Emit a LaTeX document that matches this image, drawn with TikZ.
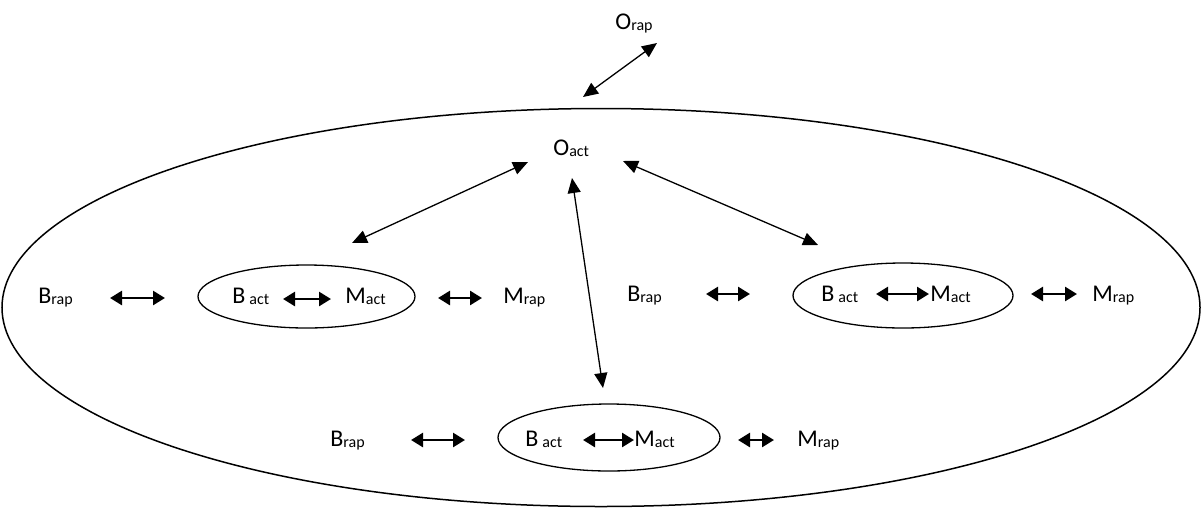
\documentclass[tikz,border=0pt]{standalone}
\usepackage{fontspec}
\setmainfont{Carlito}
\usetikzlibrary{arrows.meta,shapes.geometric}
\newcommand\sbt[1]{\raisebox{-0.6pt}{\fontsize{8}{8}\selectfont #1}}
\tikzset{
  lbl/.style={inner sep=0pt, anchor=base west, font=\fontsize{12}{12}\selectfont},
  harr/.style={line width=1.3pt, {Triangle[length=6pt,width=7pt]}-{Triangle[length=6pt,width=7pt]}},
  darr/.style={line width=0.65pt, {Triangle[length=7.5pt,width=6.5pt]}-{Triangle[length=7.5pt,width=6.5pt]}},
  oval/.style={draw, ellipse, line width=0.65pt, inner sep=0pt},
}
\begin{document}
\begin{tikzpicture}[x=0.5pt,y=-0.5pt]
\useasboundingbox (0,0) rectangle (1203,509);
% big ellipse
\node[oval, line width=0.75pt, minimum width=599pt, minimum height=199pt] (big) at (601,307.5) {};
% top
\node[lbl] (orap) at (615,29) {O\sbt{rap}};
\node[lbl] (oact) at (553,155) {O\sbt{act}};
\coordinate (o1) at (583,97); \coordinate (o2) at (657,43);
\draw[darr] (o1) -- (o2);
\coordinate (d1a) at (528,162); \coordinate (d1b) at (352,243);
\coordinate (d2a) at (572,178); \coordinate (d2b) at (603,388);
\coordinate (d3a) at (623,161); \coordinate (d3b) at (818,245);
\draw[darr] (d1a) -- (d1b);
\draw[darr] (d2a) -- (d2b);
\draw[darr] (d3a) -- (d3b);
% left group
\node[oval, minimum width=108.5pt, minimum height=31.5pt] (eL) at (306.5,296.5) {};
\node[lbl] (brapL) at (38,303) {B\sbt{rap}};
\node[lbl] (bactL) at (232,303) {B\,\sbt{act}};
\node[lbl] (mactL) at (345,303) {M\sbt{act}};
\node[lbl] (mrapL) at (503,303) {M\sbt{rap}};
\coordinate (l1a) at (110,298); \coordinate (l1b) at (165,298);
\coordinate (l2a) at (283,299); \coordinate (l2b) at (331,299);
\coordinate (l3a) at (438,298); \coordinate (l3b) at (482,298);
\draw[harr] (l1a) -- (l1b);
\draw[harr] (l2a) -- (l2b);
\draw[harr] (l3a) -- (l3b);
% right group
\node[oval, minimum width=110pt, minimum height=32.5pt] (eR) at (903,295.5) {};
\node[lbl] (brapR) at (627,301) {B\sbt{rap}};
\node[lbl] (bactR) at (821,301) {B\,\sbt{act}};
\node[lbl] (mactR) at (930,301) {M\sbt{act}};
\node[lbl] (mrapR) at (1092,301) {M\sbt{rap}};
\coordinate (r1a) at (706,294); \coordinate (r1b) at (750,294);
\coordinate (r2a) at (876,294); \coordinate (r2b) at (929,294);
\coordinate (r3a) at (1031,294); \coordinate (r3b) at (1077,294);
\draw[harr] (r1a) -- (r1b);
\draw[harr] (r2a) -- (r2b);
\draw[harr] (r3a) -- (r3b);
% bottom group
\node[oval, minimum width=111pt, minimum height=33.5pt] (eB) at (609,437.5) {};
\node[lbl] (brapB) at (330,446) {B\sbt{rap}};
\node[lbl] (bactB) at (525,446) {B\,\sbt{act}};
\node[lbl] (mactB) at (634,446) {M\sbt{act}};
\node[lbl] (mrapB) at (797,446) {M\sbt{rap}};
\coordinate (b1a) at (411,440); \coordinate (b1b) at (465,440);
\coordinate (b2a) at (583,440); \coordinate (b2b) at (634,440);
\coordinate (b3a) at (738,440); \coordinate (b3b) at (774,440);
\draw[harr] (b1a) -- (b1b);
\draw[harr] (b2a) -- (b2b);
\draw[harr] (b3a) -- (b3b);
\end{tikzpicture}
\end{document}
